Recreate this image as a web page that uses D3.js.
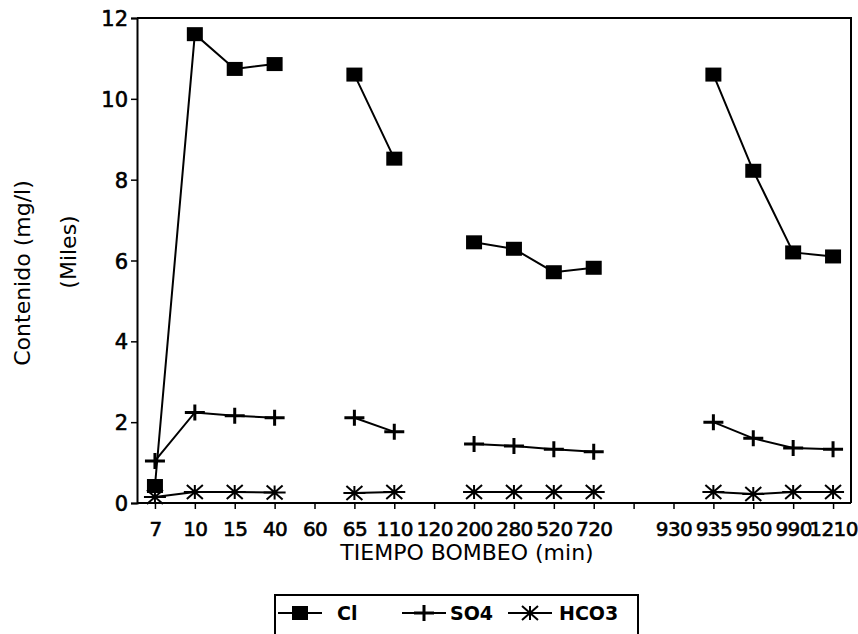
<!DOCTYPE html>
<html>
<head>
<meta charset="utf-8">
<script src="https://cdn.jsdelivr.net/npm/d3@7"></script>
<style>
  html, body { margin: 0; padding: 0; background: #fff; }
  svg { display: block; }
  text { font-family: "DejaVu Sans", sans-serif; fill: #000; }
</style>
</head>
<body>
<svg id="chart" width="858" height="634"></svg>
<script>
// ---- data ----
const categories = ["7","10","15","40","60","65","110","120","200","280","520","720","","930","935","950","990","1210"];
const clValues   = [0.42, 11.6, 10.74, 10.86, null, 10.6, 8.52, null, 6.45, 6.29, 5.71, 5.82, null, null, 10.6, 8.22, 6.2, 6.1];
const so4Values  = [1.04, 2.24, 2.16, 2.11, null, 2.11, 1.76, null, 1.46, 1.41, 1.33, 1.27, null, null, 2.0, 1.6, 1.36, 1.33];
const hco3Values = [0.15, 0.27, 0.27, 0.26, null, 0.25, 0.27, null, 0.27, 0.27, 0.27, 0.27, null, null, 0.27, 0.22, 0.27, 0.27];
const yTicks = [0, 2, 4, 6, 8, 10, 12];
const seriesNames = ["Cl", "SO4", "HCO3"];

// ---- layout ----
const svg = d3.select("#chart");
const mLeft = 137, mRight = 851, mTop = 18, mBottom = 503;

const x = d3.scalePoint()
  .domain(categories.map((d, i) => i))
  .range([mLeft, mRight])
  .padding(0.45);
const y = d3.scaleLinear().domain([0, 12]).range([mBottom, mTop]);

// frame (top & right)
svg.append("path")
  .attr("d", `M${mLeft},${mTop}H${mRight}V${mBottom}`)
  .attr("fill", "none").attr("stroke", "#000").attr("stroke-width", 2);

// y axis
const yAxis = svg.append("g").attr("transform", `translate(${mLeft},0)`)
  .call(d3.axisLeft(y).tickValues(yTicks).tickSize(6).tickPadding(3).tickFormat(d3.format("d")));
yAxis.select(".domain").attr("stroke-width", 2);
yAxis.selectAll(".tick line").attr("stroke-width", 1.5);
yAxis.selectAll("text").attr("font-size", 21).attr("font-family", "DejaVu Sans").attr("dy", "0.36em")
  .attr("stroke", "#000").attr("stroke-width", 0.6);

// x axis
const xAxis = svg.append("g").attr("transform", `translate(0,${mBottom})`)
  .call(d3.axisBottom(x).tickSize(6).tickPadding(13).tickFormat(i => categories[i]));
xAxis.select(".domain").attr("stroke-width", 2).attr("d", `M${mLeft},0H${mRight}`);
xAxis.selectAll(".tick line").attr("stroke-width", 1.5);
xAxis.selectAll("text").attr("font-size", 20).attr("font-family", "DejaVu Sans")
  .attr("letter-spacing", "-0.6")
  .attr("stroke", "#000").attr("stroke-width", 0.6);

// axis titles
svg.append("text").attr("x", 467).attr("y", 560).attr("text-anchor", "middle")
  .attr("font-size", 22).text("TIEMPO BOMBEO (min)");
svg.append("text").attr("transform", "translate(30,273) rotate(-90)").attr("text-anchor", "middle")
  .attr("font-size", 22).text("Contenido (mg/l)");
svg.append("text").attr("transform", "translate(76,252) rotate(-90)").attr("text-anchor", "middle")
  .attr("font-size", 22).text("(Miles)");

// marker drawers
function drawSquare(g, cx, cy) {
  g.append("rect").attr("x", cx - 8).attr("y", cy - 7).attr("width", 16).attr("height", 14)
    .attr("fill", "#000");
}
function drawPlus(g, cx, cy) {
  g.append("path").attr("d", `M${cx-10},${cy}H${cx+10}M${cx},${cy-8}V${cy+8}`)
    .attr("stroke", "#000").attr("stroke-width", 3).attr("fill", "none");
}
function drawStar(g, cx, cy) {
  g.append("path").attr("d",
    `M${cx-11},${cy}H${cx+11}M${cx-8},${cy-7}L${cx+8},${cy+7}M${cx-8},${cy+7}L${cx+8},${cy-7}M${cx},${cy-7}V${cy+7}`)
    .attr("stroke", "#000").attr("stroke-width", 2).attr("fill", "none");
}

const series = [
  { name: "Cl", values: clValues, marker: drawSquare },
  { name: "SO4", values: so4Values, marker: drawPlus },
  { name: "HCO3", values: hco3Values, marker: drawStar }
];

const line = d3.line()
  .defined(d => d.v !== null)
  .x(d => x(d.i)).y(d => y(d.v));

series.forEach(s => {
  const pts = s.values.map((v, i) => ({ i, v }));
  const g = svg.append("g");
  g.append("path").attr("d", line(pts)).attr("fill", "none")
    .attr("stroke", "#000").attr("stroke-width", 2);
  pts.filter(d => d.v !== null).forEach(d => s.marker(g, x(d.i), y(d.v)));
});

// legend
const legend = svg.append("g");
legend.append("rect").attr("x", 275).attr("y", 595).attr("width", 363).attr("height", 60)
  .attr("fill", "none").attr("stroke", "#000").attr("stroke-width", 2);
const legendPos = [
  { lx: 278, tx: 337 },
  { lx: 402, tx: 450 },
  { lx: 508, tx: 559 }
];
series.forEach((s, k) => {
  const p = legendPos[k];
  const cy = 613;
  legend.append("line").attr("x1", p.lx).attr("x2", p.lx + 44).attr("y1", cy).attr("y2", cy)
    .attr("stroke", "#000").attr("stroke-width", 2);
  s.marker(legend, p.lx + 22, cy);
  legend.append("text").attr("x", p.tx).attr("y", cy).attr("dy", "0.36em")
    .attr("font-size", 19).attr("font-weight", "bold").text(seriesNames[k]);
});
</script>
</body>
</html>
